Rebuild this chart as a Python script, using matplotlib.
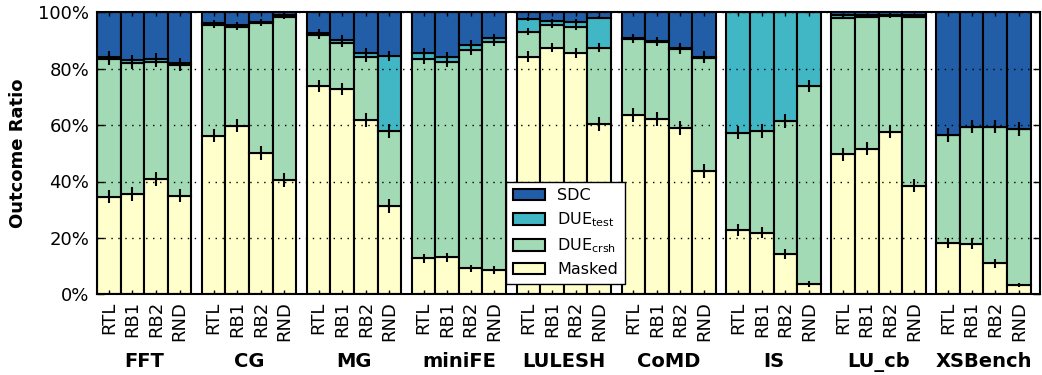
import numpy as np
import matplotlib
matplotlib.use("Agg")
import matplotlib.pyplot as plt
from matplotlib.patches import Patch

plt.rcParams['font.family'] = ['DejaVu Sans']
plt.rcParams['mathtext.default'] = 'regular'

benchmarks = ["FFT", "CG", "MG", "miniFE", "LULESH", "CoMD", "IS", "LU_cb", "XSBench"]
methods = ["RTL", "RB1", "RB2", "RND"]

# values in percent, per benchmark: [RTL, RB1, RB2, RND]
masked = [
    [34.6, 35.6, 40.9, 35.0],
    [56.3, 59.8, 50.2, 40.5],
    [73.9, 72.7, 61.8, 31.4],
    [12.8, 13.1, 9.2, 8.6],
    [84.3, 87.5, 85.5, 60.4],
    [63.6, 62.1, 58.9, 43.7],
    [22.8, 21.9, 14.3, 3.7],
    [49.6, 51.7, 57.7, 38.5],
    [18.2, 18.0, 11.0, 3.3],
]
due_crsh = [
    [48.7, 46.3, 41.5, 46.2],
    [39.2, 35.1, 46.1, 58.0],
    [18.1, 16.5, 22.2, 26.5],
    [70.5, 69.4, 77.4, 80.8],
    [8.8, 8.0, 9.4, 27.1],
    [26.9, 27.3, 28.0, 40.2],
    [34.5, 36.0, 47.2, 70.2],
    [48.5, 46.8, 41.0, 60.0],
    [38.3, 41.5, 48.5, 55.3],
]
due_test = [
    [1.0, 1.1, 1.2, 0.7],
    [0.6, 0.7, 0.4, 0.4],
    [0.8, 1.0, 1.7, 26.6],
    [2.2, 1.5, 1.8, 1.6],
    [4.5, 1.4, 1.8, 10.6],
    [0.4, 0.4, 0.5, 0.4],
    [42.7, 42.1, 38.5, 26.1],
    [0.9, 0.5, 0.5, 0.4],
    [0.0, 0.0, 0.0, 0.0],
]
sdc = [
    [15.7, 17.0, 16.4, 18.1],
    [3.9, 4.4, 3.3, 1.1],
    [7.2, 9.8, 14.3, 15.5],
    [14.5, 16.0, 11.6, 9.0],
    [2.4, 3.1, 3.3, 1.9],
    [9.1, 10.2, 12.6, 15.7],
    [0.0, 0.0, 0.0, 0.0],
    [1.0, 1.0, 0.8, 1.1],
    [43.5, 40.5, 40.5, 41.4],
]

# error half-widths (percent) at the top of each cumulative segment
err_masked = [
    [2.4, 2.4, 2.4, 2.4],
    [2.4, 2.4, 2.4, 2.4],
    [2.1, 2.1, 2.4, 2.4],
    [1.6, 1.6, 1.3, 1.3],
    [1.8, 1.6, 1.7, 2.4],
    [2.4, 2.4, 2.4, 2.4],
    [2.0, 2.0, 1.7, 1.0],
    [2.4, 2.4, 2.4, 2.4],
    [1.9, 1.9, 1.5, 0.8],
]
err_crsh = [
    [1.9, 1.9, 1.9, 1.9],
    [1.0, 1.1, 1.0, 0.7],
    [1.4, 1.6, 1.8, 2.4],
    [1.8, 1.8, 1.7, 1.4],
    [1.2, 1.1, 1.1, 1.6],
    [1.4, 1.4, 1.7, 1.8],
    [2.4, 2.4, 2.4, 2.2],
    [0.6, 0.6, 0.6, 0.6],
    [2.4, 2.4, 2.4, 2.4],
]
err_test = [
    [1.9, 1.9, 1.9, 1.9],
    [1.0, 1.1, 1.0, 0.7],
    [1.4, 1.6, 1.8, 1.8],
    [1.7, 1.8, 1.6, 1.4],
    [0.7, 0.8, 0.8, 0.6],
    [1.4, 1.4, 1.7, 1.8],
    [0.0, 0.0, 0.0, 0.0],
    [0.5, 0.5, 0.5, 0.5],
    [2.4, 2.4, 2.4, 2.4],
]

colors = {"Masked": "#ffffcc", "DUEcrsh": "#a1dab4", "DUEtest": "#41b6c4", "SDC": "#225ea8"}

fig = plt.figure(figsize=(10.42, 3.75), dpi=100)
ax = fig.add_axes([0.0931, 0.2152, 0.905, 0.752])

pitch = 4.45
x = np.array([j * pitch + i for j in range(len(benchmarks)) for i in range(len(methods))], dtype=float)
m = np.array(masked).ravel()
c = np.array(due_crsh).ravel()
t = np.array(due_test).ravel()
s = np.array(sdc).ravel()
em = np.array(err_masked).ravel()
ec = np.array(err_crsh).ravel()
et = np.array(err_test).ravel()

kw = dict(width=1.0, align='edge', edgecolor='black', linewidth=1.5, zorder=2)
ax.bar(x, m, color=colors["Masked"], **kw)
ax.bar(x, c, bottom=m, color=colors["DUEcrsh"], **kw)
ax.bar(x, t, bottom=m + c, color=colors["DUEtest"], **kw)
ax.bar(x, s, bottom=m + c + t, color=colors["SDC"], **kw)

ekw = dict(fmt='none', ecolor='black', elinewidth=1.5, capsize=0, zorder=3)
ax.errorbar(x + 0.5, m, yerr=em, **ekw)
ax.errorbar(x + 0.5, m + c, yerr=ec, **ekw)
ax.errorbar(x + 0.5, m + c + t, yerr=et, **ekw)

ax.set_xlim(0, 40.0)
ax.set_ylim(0, 100)
ax.set_yticks([0, 20, 40, 60, 80, 100])
ax.set_yticklabels(["0%", "20%", "40%", "60%", "80%", "100%"])
ax.set_xticks(x + 0.5)
ax.set_xticklabels(methods * len(benchmarks), rotation=90)
ax.tick_params(axis='both', direction='in', top=True, right=True, labelsize=13, width=1)
ax.tick_params(axis='y', length=5, pad=5.5)
ax.tick_params(axis='x', length=3, pad=5)
ax.yaxis.grid(True, color='black', linestyle=(0, (1, 4)), linewidth=1, zorder=4)
ax.set_axisbelow(False)
for sp in ax.spines.values():
    sp.set_linewidth(1.5)

ax.set_ylabel("Outcome Ratio", fontsize=13, fontweight='bold', labelpad=8)

for j, b in enumerate(benchmarks):
    ax.text(j * pitch + 2.0, -0.258, b, transform=ax.get_xaxis_transform(),
            ha='center', va='baseline', fontsize=14, fontweight='bold')

handles = [Patch(facecolor=colors["SDC"], edgecolor='black', linewidth=1.5),
           Patch(facecolor=colors["DUEtest"], edgecolor='black', linewidth=1.5),
           Patch(facecolor=colors["DUEcrsh"], edgecolor='black', linewidth=1.5),
           Patch(facecolor=colors["Masked"], edgecolor='black', linewidth=1.5)]
labels = ["SDC", r"DUE$_{test}$", r"DUE$_{crsh}$", "Masked"]
leg = ax.legend(handles, labels, loc='upper left', bbox_to_anchor=(0.434, 0.398),
                borderaxespad=0, fontsize=11.5, fancybox=False, framealpha=1,
                edgecolor='black', handlelength=2.0, labelspacing=0.45)
leg.get_frame().set_linewidth(1.0)
leg.set_zorder(10)

fig.savefig("out.png", dpi=100)
